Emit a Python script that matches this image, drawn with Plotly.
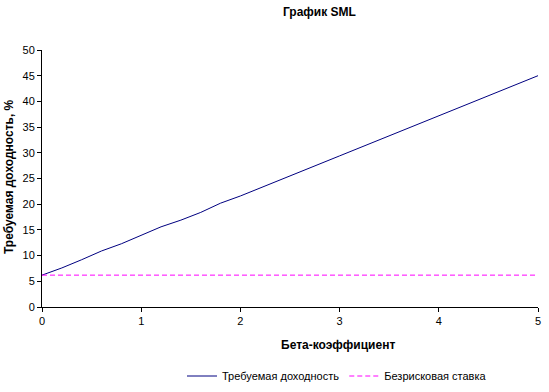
import plotly.graph_objects as go

beta = [0, 0.2, 0.4, 0.6, 0.8, 1.0, 1.2, 1.4, 1.6, 1.8, 2.0, 3.0, 4.0, 5.0]
required = [6.2, 7.6, 9.2, 10.9, 12.3, 13.9, 15.6, 16.9, 18.4, 20.2, 21.6, 29.4, 37.2, 45.0]
rf_beta = [0, 5]
rf = [6.2, 6.2]

FONT = "Liberation Sans, Arial, sans-serif"

fig = go.Figure()
fig.add_trace(go.Scatter(x=beta, y=required, mode="lines", name="Требуемая доходность",
                         line=dict(color="#000080", width=1), cliponaxis=False))
fig.add_trace(go.Scatter(x=rf_beta, y=rf, mode="lines", name="Безрисковая ставка",
                         line=dict(color="#FF00FF", width=1, dash="5px,3px"), cliponaxis=False))

W, H = 549, 392
L, R, T, B = 42, 11, 50, 85

fig.update_layout(
    width=W, height=H,
    margin=dict(l=L, r=R, t=T, b=B, autoexpand=False),
    paper_bgcolor="white", plot_bgcolor="white",
    font=dict(family=FONT, size=11, color="black"),
    showlegend=True,
    legend=dict(orientation="h", x=(182 - L) / (W - L - R), y=(H - B - 376) / (H - T - B),
                xanchor="left", yanchor="middle", font=dict(size=11),
                bgcolor="rgba(0,0,0,0)"),
    xaxis=dict(range=[0, 5], tickvals=[0, 1, 2, 3, 4, 5], showgrid=False, zeroline=False,
               showline=True, linecolor="black", linewidth=1, ticks="outside",
               ticklen=4, tickcolor="black", tickfont=dict(size=11)),
    yaxis=dict(range=[0, 50], tickvals=list(range(0, 51, 5)), showgrid=False, zeroline=False,
               showline=True, linecolor="black", linewidth=1, ticks="outside",
               ticklen=4, tickcolor="black", tickfont=dict(size=11)),
    annotations=[
        dict(text="<b>График SML</b>", x=(319 - L) / (W - L - R), y=(H - B - 12) / (H - T - B),
             xref="paper", yref="paper", showarrow=False, font=dict(size=12),
             xanchor="center", yanchor="middle"),
        dict(text="<b>Бета-коэффициент</b>", x=(338 - L) / (W - L - R), y=(H - B - 345) / (H - T - B),
             xref="paper", yref="paper", showarrow=False, font=dict(size=12),
             xanchor="center", yanchor="middle"),
        dict(text="<b>Требуемая доходность, %</b>", x=(9 - L) / (W - L - R), y=(H - B - 177) / (H - T - B),
             xref="paper", yref="paper", showarrow=False, font=dict(size=12), textangle=-90,
             xanchor="center", yanchor="middle"),
    ],
)

fig.write_html("out.html", config={"displayModeBar": False},
               post_script="document.body.style.margin='0';document.body.style.overflow='hidden';")
